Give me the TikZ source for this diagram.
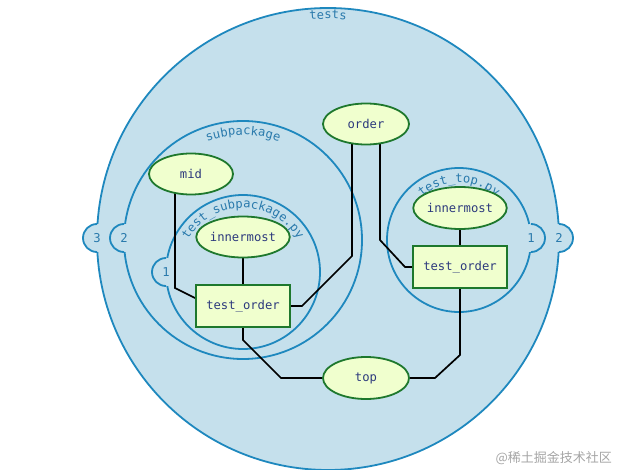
\documentclass[tikz,border=0pt]{standalone}
\usepackage{fontspec}
\setmonofont{DejaVu Sans Mono}
\newfontfamily\cjkfont{Noto Sans CJK SC}
\usetikzlibrary{decorations.text,shapes.geometric,backgrounds}
\definecolor{cfill}{RGB}{197,224,236}
\definecolor{cline}{RGB}{30,136,190}
\definecolor{clab}{RGB}{42,122,172}
\definecolor{nfill}{RGB}{240,255,206}
\definecolor{nline}{RGB}{30,120,45}
\definecolor{ntext}{RGB}{45,58,125}
\definecolor{wmark}{RGB}{165,165,165}
\newcommand\labf{\fontsize{12.2}{14}\selectfont\ttfamily\color{clab}}
\newcommand\nodef{\fontsize{12.2}{14}\selectfont\ttfamily}
\newcommand\bumpL[3]{%
  \fill[cfill] (#1,#2) circle[radius=14];
  \draw[cline,line width=1.8pt] (#1,#2+14) arc[start angle=90,end angle=270,radius=14];
  \node[font=\labf,inner sep=0pt] at (#1,#2) {#3};}
\newcommand\bumpR[3]{%
  \fill[cfill] (#1,#2) circle[radius=14];
  \draw[cline,line width=1.8pt] (#1,#2+14) arc[start angle=90,end angle=-90,radius=14];
  \node[font=\labf,inner sep=0pt] at (#1,#2) {#3};}
\newcommand\circlabel[5]{%
  \path[decorate,decoration={text along path,text={|\labf|#5},text align=center}]
    ([shift={(#4:#3)}]#1,#2) arc[start angle=#4,end angle=180-#4,radius=#3];}
\begin{document}
\begin{tikzpicture}[x=1pt,y=1pt,
  pkg/.style={draw=cline,fill=cfill,line width=1.8pt},
  oval/.style={ellipse,draw=nline,fill=nfill,line width=1.8pt,minimum width=86pt,minimum height=41pt,inner sep=0pt,font=\nodef,text=ntext},
  box/.style={rectangle,draw=nline,fill=nfill,line width=1.8pt,minimum width=94pt,minimum height=42pt,inner sep=0pt,font=\nodef,text=ntext},
  wire/.style={draw=black,line width=1.7pt}]
\useasboundingbox (0,0) rectangle (617,-470);
\begin{pgfonlayer}{background}
  % tests
  \path[pkg] (328,-239) circle[radius=231];
  \bumpL{97}{-238}{3}
  \bumpR{559}{-238}{2}
  \circlabel{328}{-239}{220}{100}{tests}
  % subpackage
  \path[pkg] (243,-240) circle[radius=119];
  \bumpL{124}{-238}{2}
  \circlabel{243}{-240}{105}{150}{subpackage}
  % test_subpackage.py
  \path[pkg] (243,-272) circle[radius=77];
  \bumpL{166}{-272}{1}
  \circlabel{243}{-272}{64}{175}{test{\_}subpackage.py}
  % test_top.py
  \path[pkg] (459,-240) circle[radius=72];
  \bumpR{531}{-238}{1}
  \circlabel{459}{-240}{57}{160}{test{\_}top.py}
\end{pgfonlayer}

\node[oval] (order) at (366,-124) {order};
\node[oval,minimum width=84pt] (mid) at (191,-174) {mid};
\node[oval] (inn1) at (243,-237) {innermost};
\node[box] (tos) at (243,-306) {test\_order};
\node[oval,minimum height=42pt] (inn2) at (460,-208) {innermost};
\node[box] (tot) at (460,-267) {test\_order};
\node[oval,minimum height=42pt] (top) at (366,-378) {top};

\begin{pgfonlayer}{background}
  \draw[wire] ([xshift=-16pt]mid.center) -- (175,-288) -- ([yshift=8pt]tos.west);
  \draw[wire] (inn1) -- (tos);
  \draw[wire] (tos.east) -- (302,-306) -- (352,-256) -- ([xshift=-14pt]order.center);
  \draw[wire] ([xshift=14pt]order.center) -- (380,-240) -- (405,-267) -- (tot.west);
  \draw[wire] (inn2) -- (tot);
  \draw[wire] (tos.south) -- (243,-340) -- (281,-378) -- (top.west);
  \draw[wire] (top.east) -- (435,-378) -- (460,-355) -- (tot.south);
\end{pgfonlayer}

\node[font=\cjkfont\fontsize{13}{15}\selectfont,text=wmark,anchor=east,inner sep=0pt] (wm) at (612,-458) {@稀土掘金技术社区};
\end{tikzpicture}
\end{document}
